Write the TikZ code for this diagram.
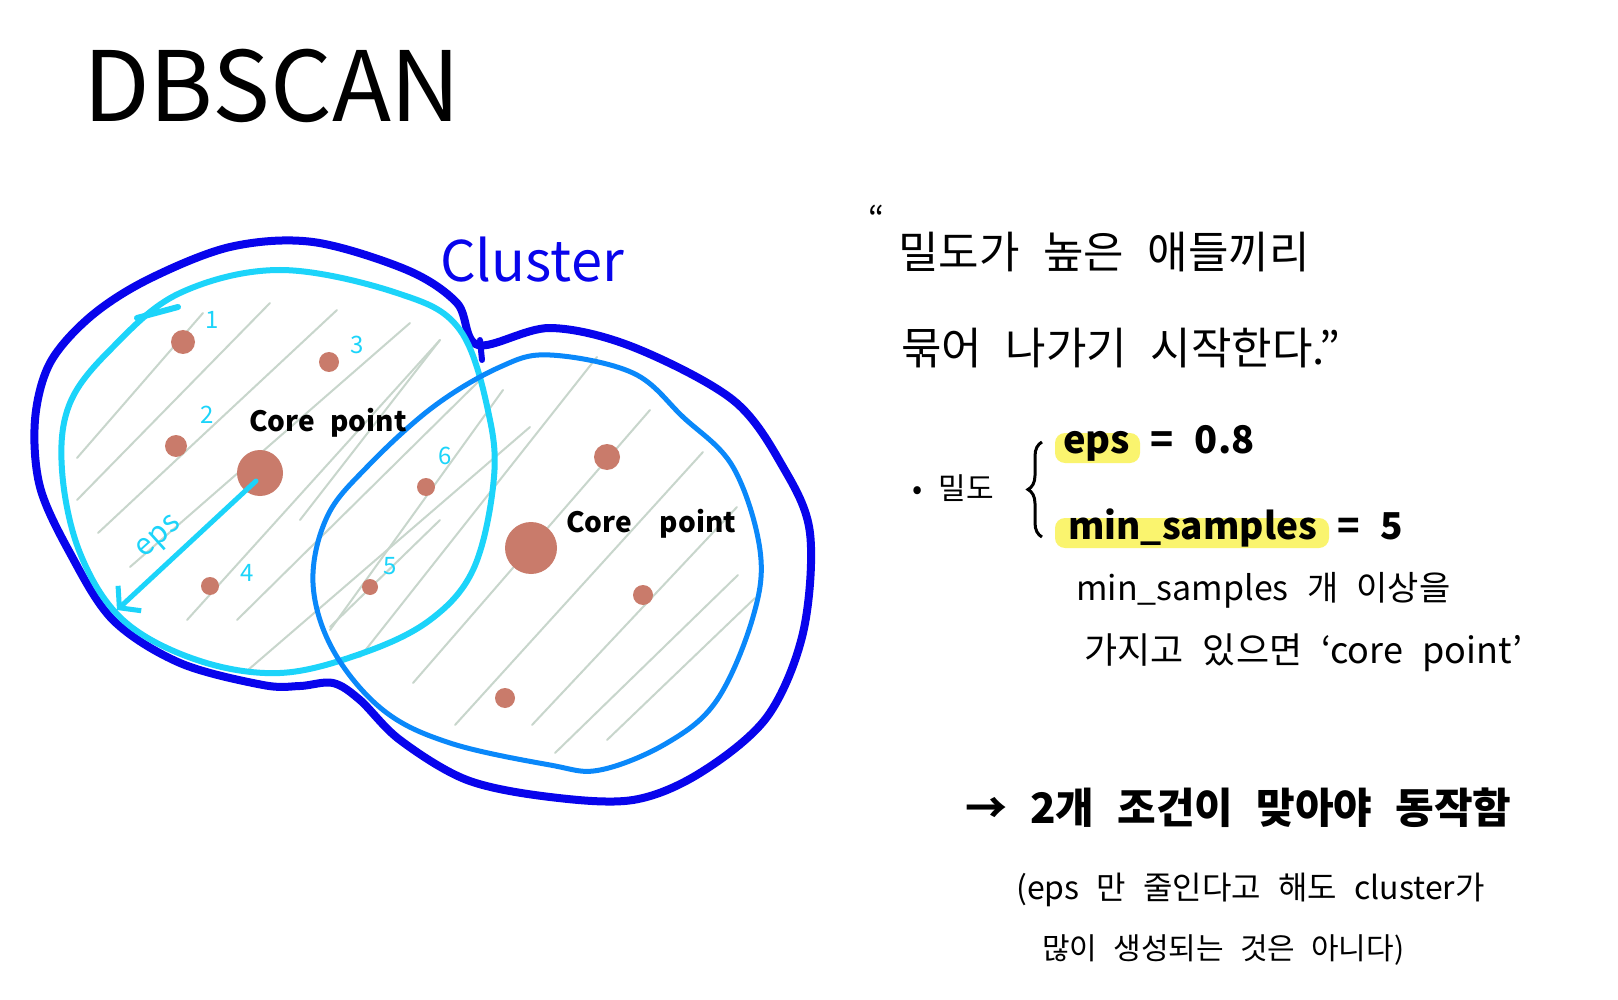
\documentclass[tikz,border=0pt]{standalone}
\usepackage{fontspec}
\setmainfont{Noto Sans CJK KR}[WordSpace=2.4]
\usetikzlibrary{arrows.meta, decorations.pathreplacing}
\definecolor{clusterblue}{RGB}{8,4,236}
\definecolor{epscyan}{RGB}{28,212,250}
\definecolor{nbrblue}{RGB}{10,136,250}
\definecolor{pointred}{RGB}{201,123,107}
\definecolor{hatchgray}{RGB}{200,214,204}
\definecolor{markyellow}{RGB}{250,244,110}
\newcommand{\fsz}[1]{\fontsize{#1}{#1}\selectfont}
\tikzset{
  hull/.style={draw=clusterblue, line width=8pt, line join=round, line cap=round},
  epsring/.style={draw=epscyan, line width=6pt, line cap=round},
  nbrring/.style={draw=nbrblue, line width=5pt},
  hatch/.style={draw=hatchgray, line width=2pt, line cap=round},
  pt/.style={fill=pointred},
  idx/.style={text=epscyan, inner sep=0pt, font=\fsz{24}},
  corelbl/.style={inner sep=0pt, font=\bfseries\fsz{28}},
  note/.style={anchor=west, inner sep=0pt},
  hilite/.style={fill=markyellow, rounded corners=10pt},
  epsarr/.style={draw=epscyan, line width=5pt, line cap=round, -{Straight Barb[length=14pt, width=34pt]}}
}

\begin{document}
\begin{tikzpicture}[x=1pt, y=-1pt]
\fill[white] (0,0) rectangle (1618,1000);
\useasboundingbox (0,0) rectangle (1618,1000);

\node[anchor=base west, inner sep=0pt, font=\fsz{97}] (title) at (83,122) {DBSCAN};

% hatching
\foreach \xa/\ya/\xb/\yb in {77/458/203/313, 77/500/270/303, 98/533/337/310, 130/567/410/323,
    187/620/440/340, 237/620/480/380, 248/670/530/427, 300/520/440/340, 330/630/503/390,
    360/657/597/357, 413/683/650/410, 455/725/703/452, 532/725/737/507, 555/753/738/575,
    607/740/755/598, 330/627/440/520}
  \draw[hatch] (\xa,\ya) -- (\xb,\yb);

% cluster hull
\draw[hull] plot[smooth cycle, tension=0.55] coordinates {
  (478,345) (550,328) (633,347) (733,400) (783,467) (810,533) (803,633) (767,717)
  (700,773) (633,800) (550,797) (467,780) (400,740) (360,700) (333,683) (300,686)
  (263,685) (180,663) (113,620) (70,553) (40,487) (35,420) (50,363) (90,317)
  (147,280) (230,247) (313,242) (407,270) (457,303)};
\draw[hull, line width=6pt] (480,340) -- (482,360);

% eps neighbourhoods
\draw[epsring] plot[smooth cycle, tension=0.6] coordinates {
  (280,270) (397,293) (460,330) (490,420) (493,487) (473,570) (430,620) (363,653)
  (280,673) (197,660) (123,620) (80,553) (62,470) (70,403) (113,347) (180,293)};
\draw[epsring] (137,318) -- (178,307);
\draw[nbrring] plot[smooth cycle, tension=0.6] coordinates {
  (550,355) (633,373) (683,417) (733,467) (760,550) (753,617) (717,700) (667,743)
  (600,770) (550,765) (450,743) (383,710) (333,650) (313,583) (327,517) (367,467)
  (433,407) (500,367)};

% samples
\foreach \x/\y/\r in {183/342/12, 329/362/10, 176/446/11, 210/586/9, 426/487/9,
    370/587/8, 607/457/13, 643/595/10, 505/698/10}
  \fill[pt] (\x,\y) circle[radius=\r];
\fill[pt] (260,473) circle[radius=23];
\fill[pt] (531,548) circle[radius=26];

\node[idx] (n1) at (212,320) {1};
\node[idx] (n2) at (207,415) {2};
\node[idx] (n3) at (357,345) {3};
\node[idx] (n4) at (247,573) {4};
\node[idx] (n5) at (390,566) {5};
\node[idx] (n6) at (445,456) {6};

\coordinate (coreA) at (256,481);
\coordinate (epsEnd) at (117,610);
\draw[epsarr] (coreA) -- (epsEnd);
\node[text=epscyan, inner sep=0pt, font=\fsz{30}, rotate=42] (epslbl) at (160,538) {eps};

\node[corelbl] (coreAlbl) at (328,423) {Core point};
\node[corelbl] (coreBlbl) at (651,524) {Core\quad point};
\node[text=clusterblue, font=\fsz{56}] (cluster) at (532,260) {Cluster};

% notes
\node[note, font=\fsz{34}] (qopen) at (868,218) {“};
\node[note, font=\fsz{44}] (line1) at (898,252) {밀도가 높은 애들끼리};
\node[note, font=\fsz{44}] (line2) at (901,348) {묶어 나가기 시작한다.”};

\node[note, font=\fsz{30}] (dens) at (912,488) {• 밀도};
\draw[decorate, decoration={brace, amplitude=14pt}, line width=3pt] (1042,537) -- (1042,442);

\fill[hilite] (1055,433) rectangle (1140,463);
\fill[hilite] (1055,518) rectangle (1329,548);
\node[note, font=\bfseries\fsz{38}] (epsval) at (1063,443) {eps = 0.8};
\node[note, font=\bfseries\fsz{37}] (minval) at (1068,528) {min\_samples = 5};
\node[note, font=\fsz{34}] (rule1) at (1076,590) {min\_samples 개 이상을};
\node[note, font=\fsz{36}] (rule2) at (1084,653) {가지고 있으면 ‘core point’};

\node[note, font=\bfseries\fsz{42}] (both) at (965,808) {→ 2개 조건이 맞아야 동작함};
\node[note, font=\fsz{32}] (rem1) at (1016,890) {(eps 만 줄인다고 해도 cluster가};
\node[note, font=\fsz{30}] (rem2) at (1042,950) {많이 생성되는 것은 아니다)};
\end{tikzpicture}
\end{document}
